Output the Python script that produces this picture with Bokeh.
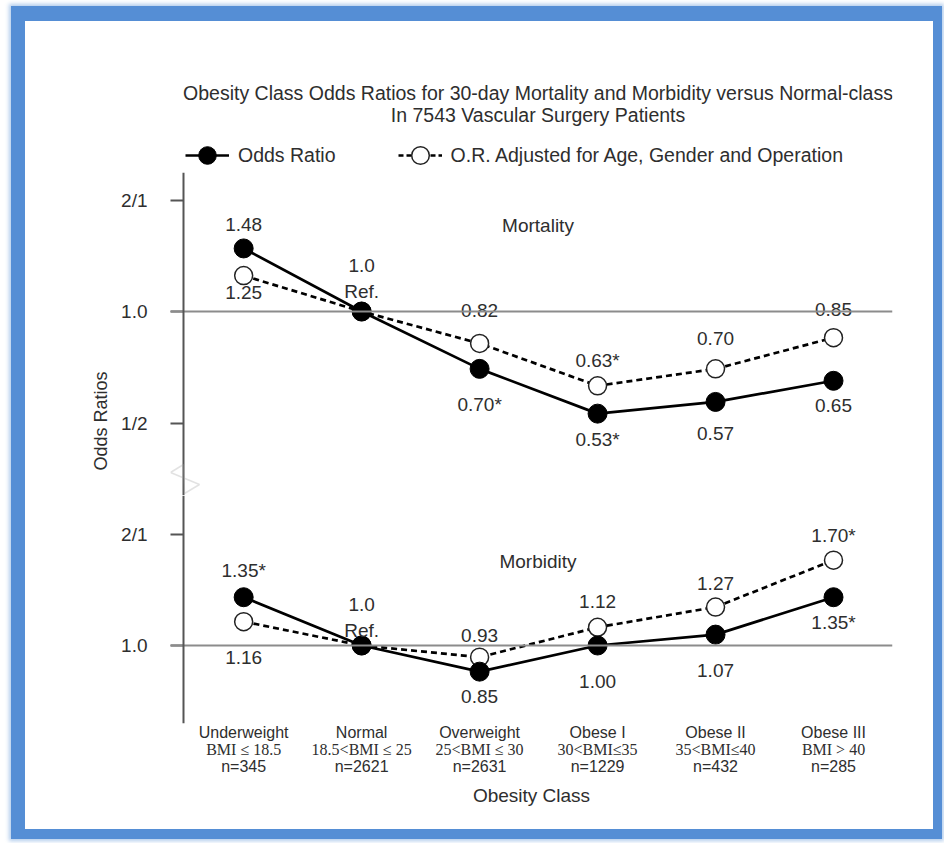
import math
from bokeh.plotting import figure
from bokeh.models import (Range1d, FixedTicker, LinearAxis, Span, Label, Legend,
                          LegendItem, PolyAnnotation, Title)
from bokeh.layouts import column
from bokeh.embed import file_html
from bokeh.resources import INLINE
from bokeh.core.properties import value

# ---------------- data ----------------
classes = ["Underweight", "Normal", "Overweight", "Obese I", "Obese II", "Obese III"]
bmi_ranges = ["BMI ≤ 18.5", "18.5<BMI ≤ 25", "25<BMI ≤ 30", "30<BMI≤35", "35<BMI≤40", "BMI > 40"]
n_patients = [345, 2621, 2631, 1229, 432, 285]

mort_or = [1.48, 1.0, 0.70, 0.53, 0.57, 0.65]
mort_adj = [1.25, 1.0, 0.82, 0.63, 0.70, 0.85]
morb_or = [1.35, 1.0, 0.85, 1.00, 1.07, 1.35]
morb_adj = [1.16, 1.0, 0.93, 1.12, 1.27, 1.70]

mort_or_labels = ["1.48", "1.0\nRef.", "0.70*", "0.53*", "0.57", "0.65"]
mort_adj_labels = ["1.25", "", "0.82", "0.63*", "0.70", "0.85"]
morb_or_labels = ["1.35*", "1.0\nRef.", "0.85", "1.00", "1.07", "1.35*"]
morb_adj_labels = ["1.16", "", "0.93", "1.12", "1.27", "1.70*"]

y_ticks = [0.5, 1.0, 2.0]
y_tick_labels = ["1/2", "1.0", "2/1"]

title_lines = ["Obesity Class Odds Ratios for 30-day Mortality and Morbidity versus Normal-class",
               "In 7543 Vascular Surgery Patients"]
series_names = ["Odds Ratio", "O.R. Adjusted for Age, Gender and Operation"]

# label placement (screen px, relative to the point; + is down)
mort_or_dy = [-24, -33, 36, 26, 32, 25]
mort_adj_dy = [17, 0, -33, -25, -30, -28]
morb_or_dy = [-27, -28, 25, 36, 36, 25]
morb_adj_dy = [36, 0, -22, -26, -24, -25]

# ---------------- style ----------------
FONT = "Liberation Sans"
SERIF = "Liberation Serif"
TXT = "#2e2e2e"
AXC = "#555555"
PPD = 111.5      # pixels per doubling on the odds-ratio axis
PPU = 118.0      # pixels per category step
TICK = 13        # tick length (px), ticks drawn inside frame left of the axis line
W = 908

xs = list(range(1, len(classes) + 1))
AXIS_X = 0.49    # where the vertical axis line sits (data units)
xr = Range1d(AXIS_X - TICK / PPU, 6.5)
xc = (AXIS_X + xr.end) / 2

common = dict(width=W, x_range=xr, output_backend="svg", toolbar_location=None,
              min_border_left=145, min_border_right=41, x_axis_location=None,
              outline_line_color=None, background_fill_color="white",
              border_fill_color="white")

# ---- header (title + legend) ----
head = figure(height=151, y_range=Range1d(151, 0), y_axis_location=None,
              min_border_top=0, min_border_bottom=0, **common)
head.xgrid.visible = False
head.ygrid.visible = False
for txt, yy in zip(title_lines, [71, 93]):
    head.add_layout(Label(x=xc, y=yy, text=txt, text_align="center", text_baseline="middle",
                          text_font=FONT, text_font_size="19.5px", text_color=TXT))
# legend proxies: one point each, kept outside the visible header range
hid_x, hid_y = [xc], [-1000]
lp1 = head.line(hid_x, hid_y, line_color="black", line_width=2.6)
sp1 = head.scatter(hid_x, hid_y, size=19, fill_color="black", line_color="black")
lp2 = head.line(hid_x, hid_y, line_color="black", line_width=2.6, line_dash="5 3")
sp2 = head.scatter(hid_x, hid_y, size=18, fill_color="white", line_color="#222222",
                   line_width=1.5)
legend = Legend(items=[LegendItem(label=series_names[0], renderers=[lp1, sp1]),
                       LegendItem(label=series_names[1], renderers=[lp2, sp2])],
                orientation="horizontal", location=(15, -5), glyph_width=44,
                glyph_height=44, label_standoff=9, spacing=62, padding=0, margin=0,
                border_line_color=None, background_fill_alpha=0,
                label_text_font=FONT, label_text_font_size="19.5px", label_text_color=TXT)
head.add_layout(legend)

# ---- panels ----
mort = figure(height=323, y_range=Range1d(2 ** (-184 / PPD), 2 ** (139 / PPD)),
              y_axis_type="log", min_border_top=0, min_border_bottom=0, **common)
morb = figure(height=334, y_range=Range1d(2 ** (-78 / PPD), 2 ** (150 / PPD)),
              y_axis_type="log", min_border_top=0, min_border_bottom=106, **common)


def style_y(p, ticks):
    ax = p.yaxis[0]
    ax.ticker = FixedTicker(ticks=ticks)
    ax.major_label_overrides = {t: l for t, l in zip(y_ticks, y_tick_labels) if t in ticks}
    ax.minor_tick_line_color = None
    ax.major_tick_out = 0
    ax.major_tick_in = TICK
    ax.axis_line_color = None
    ax.major_tick_line_color = AXC
    ax.major_tick_line_width = 2
    ax.major_label_standoff = 23
    ax.major_label_text_font = FONT
    ax.major_label_text_font_size = "19px"
    ax.major_label_text_color = TXT
    p.xgrid.visible = False
    p.ygrid.visible = False
    p.add_layout(Span(location=1.0, dimension="width", line_color="#8c8c8c", line_width=2))
    p.add_layout(Span(location=AXIS_X, dimension="height", line_color=AXC, line_width=2))


style_y(mort, [0.5, 1.0, 2.0])
style_y(morb, [1.0, 2.0])


def draw(p, o, a, ol, al, od, ad):
    p.line(xs, o, line_color="black", line_width=2.7)
    p.line(xs, a, line_color="black", line_width=2.7, line_dash="6 4")
    p.scatter(xs, a, size=18, fill_color="white", line_color="#222222", line_width=1.5)
    p.scatter(xs, o, size=19, fill_color="black", line_color="black")
    for vals, labs, dys in ((o, ol, od), (a, al, ad)):
        p.text(x=xs, y=vals, text=labs, y_offset=dys, text_align="center",
               text_baseline="middle", text_font=value(FONT), text_font_size="19px",
               text_color=TXT, text_line_height=1.25)


draw(mort, mort_or, mort_adj, mort_or_labels, mort_adj_labels, mort_or_dy, mort_adj_dy)
draw(morb, morb_or, morb_adj, morb_or_labels, morb_adj_labels, morb_or_dy, morb_adj_dy)

# panel names
mort.add_layout(Label(x=xc, y=2 ** (86 / PPD), text="Mortality", text_align="center",
                      text_baseline="middle", text_font=FONT, text_font_size="19px",
                      text_color=TXT))
morb.add_layout(Label(x=xc, y=2 ** (84 / PPD), text="Morbidity", text_align="center",
                      text_baseline="middle", text_font=FONT, text_font_size="19px",
                      text_color=TXT))

# y axis title (spans both panels): anchored at the panel's bottom, nudged up
mort.add_layout(Title(text="Odds Ratios", align="left", offset=25, standoff=16,
                      text_font=FONT, text_font_size="18px", text_font_style="normal",
                      text_color=TXT), "left")

# axis break mark (screen px relative to the frame's bottom-left)
mort.add_layout(PolyAnnotation(xs=[13, 0, 29, 14], ys=[31, 23, 11, 2],
                               xs_units="screen", ys_units="screen",
                               fill_alpha=0, line_color="#a0a0a0", line_width=1.5))

# x axis: three rows of category labels
rows = [(classes, FONT), (bmi_ranges, SERIF), (["n=%d" % n for n in n_patients], FONT)]
for i, (labs, fnt) in enumerate(rows):
    ax = LinearAxis(ticker=FixedTicker(ticks=xs),
                    major_label_overrides={x: l for x, l in zip(xs, labs)},
                    axis_line_color=None, major_tick_line_color=None,
                    minor_tick_line_color=None, major_tick_out=0, major_tick_in=0,
                    major_label_standoff=0 if i == 0 else -3,
                    major_label_text_font=fnt, major_label_text_font_size="16px",
                    major_label_text_color=TXT)
    if i == 2:
        ax.axis_label = "Obesity Class"
        ax.axis_label_standoff = 7
        ax.axis_label_text_font = FONT
        ax.axis_label_text_font_size = "19px"
        ax.axis_label_text_font_style = "normal"
        ax.axis_label_text_color = TXT
    morb.add_layout(ax, "below")

layout = column(head, mort, morb, spacing=0,
                styles={"border-style": "solid", "border-color": "#558ed5",
                        "border-width": "15px 9px 10px 14px",
                        "margin": "6px 0 0 11px",
                        "box-shadow": "0 0 4px 2px rgba(85,142,213,0.45)",
                        "background-color": "white"})

open("out.html", "w").write(file_html(layout, INLINE))
